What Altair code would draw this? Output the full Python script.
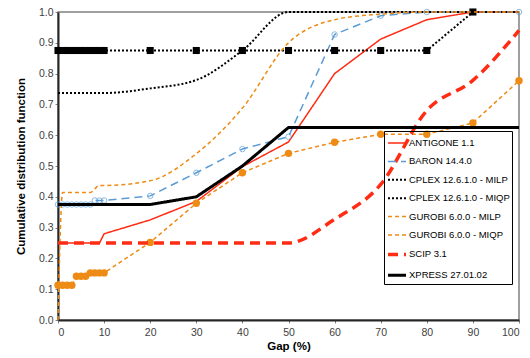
import altair as alt
import pandas as pd

FINE = list(range(0, 11)) + list(range(20, 101, 10))
COARSE = [0, 10, 20, 30, 40, 50, 60, 70, 80, 90, 100]

NAMES = ["ANTIGONE 1.1", "BARON 14.4.0", "CPLEX 12.6.1.0 - MILP", "CPLEX 12.6.1.0 - MIQP",
         "GUROBI 6.0.0 - MILP", "GUROBI 6.0.0 - MIQP", "SCIP 3.1", "XPRESS 27.01.02"]

antigone_x = [0, 9, 10, 20, 30, 40, 50, 60, 70, 80, 90, 100]
antigone_y = [0.25, 0.25, 0.28, 0.325, 0.385, 0.498, 0.578, 0.80, 0.912, 0.975, 1.0, 1.0]

baron_x = FINE
baron_y = [0.375] * 8 + [0.388] * 3 + [0.403, 0.478, 0.555, 0.595, 0.927, 0.988, 1.0, 1.0, 1.0]

cplex_milp_x = COARSE
cplex_milp_y = [0.737, 0.737, 0.752, 0.779, 0.875, 1.0, 1.0, 1.0, 1.0, 1.0, 1.0]

cplex_miqp_x = FINE
cplex_miqp_y = [0.875] * 18 + [1.0]

gurobi_milp_x = [0, 1, 7, 9, 10, 20, 30, 40, 50, 60, 70, 80, 90, 100]
gurobi_milp_y = [0.0, 0.414, 0.414, 0.437, 0.437, 0.452, 0.54, 0.688, 0.90, 0.975, 0.993, 1.0, 1.0, 1.0]

gurobi_miqp_x = FINE
gurobi_miqp_y = [0.113] * 4 + [0.142] * 3 + [0.153] * 4 + [0.252, 0.379, 0.478, 0.541, 0.577, 0.603, 0.603, 0.64, 0.777]

scip_x = COARSE
scip_y = [0.25] * 6 + [0.327, 0.44, 0.68, 0.778, 0.94]

xpress_x = COARSE
xpress_y = [0.375, 0.375, 0.375, 0.40, 0.50, 0.625, 0.625, 0.625, 0.625, 0.625, 0.625]

RED = "#FF2B12"
BLUE = "#5B9BD5"
ORANGE = "#EE8B14"
BLACK = "#000000"
COLORS = [RED, BLUE, BLACK, BLACK, ORANGE, ORANGE, RED, BLACK]
DASHES = [[1, 0], [8, 5], [2, 2], [2, 2], [4, 3], [4, 3], [10, 6], [1, 0]]
WIDTHS = [1.5, 1.5, 2, 2, 1.5, 1.5, 3.5, 3]
SMOOTH = [False, False, True, False, True, False, True, False]

series = [
    (antigone_x, antigone_y), (baron_x, baron_y), (cplex_milp_x, cplex_milp_y),
    (cplex_miqp_x, cplex_miqp_y), (gurobi_milp_x, gurobi_milp_y),
    (gurobi_miqp_x, gurobi_miqp_y), (scip_x, scip_y), (xpress_x, xpress_y),
]

rows = []
for name, (xs, ys) in zip(NAMES, series):
    for xv, yv in zip(xs, ys):
        rows.append({"series": name, "x": xv, "y": yv})
df = pd.DataFrame(rows)

x_enc = alt.X("x:Q", scale=alt.Scale(domain=[0, 100], nice=False),
              axis=alt.Axis(values=list(range(0, 101, 10)), title="Gap (%)"))
y_enc = alt.Y("y:Q", scale=alt.Scale(domain=[0, 1], nice=False),
              axis=alt.Axis(values=[round(i * 0.1, 1) for i in range(11)], format=".1f",
                            title="Cumulative distribution function"))

base = alt.Chart(df)

layers = []
for name, smooth in zip(NAMES, SMOOTH):
    layers.append(
        base.transform_filter(alt.datum.series == name)
        .mark_line(interpolate="monotone" if smooth else "linear", strokeCap="butt")
        .encode(
            x=x_enc, y=y_enc,
            color=alt.Color("series:N", scale=alt.Scale(domain=NAMES, range=COLORS), legend=alt.Legend(title=None)),
            strokeDash=alt.StrokeDash("series:N", scale=alt.Scale(domain=NAMES, range=DASHES), legend=alt.Legend(title=None)),
            strokeWidth=alt.StrokeWidth("series:N", scale=alt.Scale(type="ordinal", domain=NAMES, range=WIDTHS), legend=alt.Legend(title=None)),
        )
    )

pts_baron = base.transform_filter(alt.datum.series == NAMES[1]).mark_point(
    shape="circle", filled=False, color=BLUE, size=30, strokeWidth=1).encode(x=x_enc, y=y_enc)
pts_cplex = base.transform_filter(alt.datum.series == NAMES[3]).mark_point(
    shape="square", filled=True, color=BLACK, size=50, opacity=1).encode(x=x_enc, y=y_enc)
pts_gurobi = base.transform_filter(alt.datum.series == NAMES[5]).mark_point(
    shape="circle", filled=True, color=ORANGE, size=55, opacity=1).encode(x=x_enc, y=y_enc)

ordered = [layers[0], layers[1], pts_baron, layers[2], layers[3], pts_cplex,
           layers[4], layers[5], pts_gurobi, layers[6], layers[7]]

chart = alt.layer(*ordered).properties(
    width=461, height=308,
    autosize=alt.AutoSizeParams(type="none"),
    padding={"left": 58, "top": 12, "right": 11, "bottom": 38},
).configure_view(
    stroke="#808080", strokeWidth=1.5
).configure_axis(
    grid=False, labelFont="Liberation Sans", labelFontSize=10.5, labelColor="#404040",
    titleFont="Liberation Sans", titleFontSize=11.5, titleFontWeight="bold", titleColor="#000000",
    domainColor="#262626", domainWidth=2, tickColor="#808080", tickSize=3,
).configure_axisY(
    labelPadding=2, titlePadding=12,
).configure_axisX(
    labelPadding=4, titlePadding=3,
).configure_legend(
    orient="none", legendX=326, legendY=119, symbolType="stroke", symbolSize=324,
    padding=2, rowPadding=3.4, labelFont="Liberation Sans", labelFontSize=9.5, labelColor="#000000",
    strokeColor="#000000", labelOffset=1, columnPadding=0,
)

chart.save("out.html", embed_options={"renderer": "svg", "actions": False})
